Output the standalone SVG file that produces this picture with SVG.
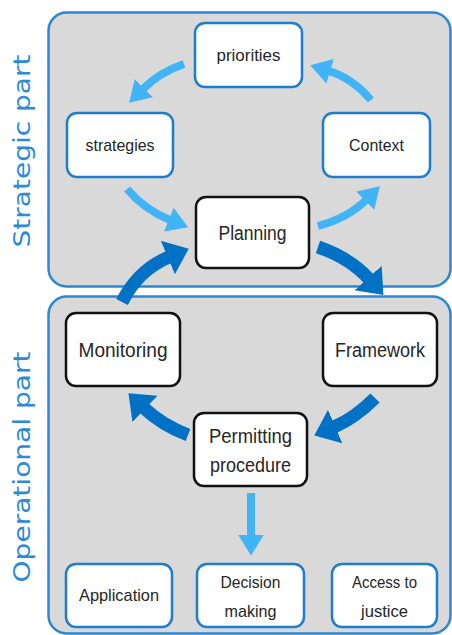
<svg xmlns="http://www.w3.org/2000/svg" width="452" height="635" viewBox="0 0 452 635">
<defs>
<style>
.panel{fill:#d9d9d9;stroke:#2a87d3;stroke-width:2.5}
.nb{fill:#fff;stroke:#1f7dcc;stroke-width:2.5}
.nk{fill:#fff;stroke:#111;stroke-width:2.5}
.t{font-family:"Liberation Sans",Arial,sans-serif;fill:#262626;text-anchor:middle}
.s{font-size:17px}
.m{font-size:20px}
.side{font-family:"DejaVu Sans","Liberation Sans",sans-serif;font-size:23px;fill:#2d8ad6;text-anchor:middle}
.la{fill:none;stroke:#40b4f6;stroke-width:8;marker-end:url(#hl)}
.da{fill:none;stroke:#0071c4;stroke-width:13;marker-end:url(#hd)}
</style>
<marker id="hl" viewBox="0 -2 3 4" refX="0.15" refY="0" markerWidth="3" markerHeight="4" markerUnits="strokeWidth" orient="auto">
<path d="M0,-1.6 L2.6,0 L0,1.6 z" fill="#40b4f6"/>
</marker>
<marker id="hd" viewBox="0 -2 2 4" refX="0.1" refY="0" markerWidth="2" markerHeight="4" markerUnits="strokeWidth" orient="auto">
<path d="M0,-1.4 L1.75,0 L0,1.4 z" fill="#0071c4"/>
</marker>
</defs>
<rect width="452" height="635" fill="#fff"/>
<g id="strategic-panel">
<rect class="panel" x="48.5" y="12.5" width="402" height="274" rx="18"/>
<text class="side" transform="translate(30,151) rotate(-90)" textLength="193" lengthAdjust="spacingAndGlyphs">Strategic part</text>
</g>
<g id="operational-panel">
<rect class="panel" x="48.5" y="296.5" width="402" height="337" rx="18"/>
<text class="side" transform="translate(30,467) rotate(-90)" textLength="231" lengthAdjust="spacingAndGlyphs">Operational part</text>
</g>
<g id="priorities"><rect class="nb" x="195" y="23" width="107" height="64" rx="10"/><text class="t s" x="248.5" y="61" textLength="64" lengthAdjust="spacingAndGlyphs">priorities</text></g>
<g id="strategies"><rect class="nb" x="67" y="113" width="106" height="64" rx="10"/><text class="t s" x="120" y="151" textLength="69" lengthAdjust="spacingAndGlyphs">strategies</text></g>
<g id="context"><rect class="nb" x="323" y="113" width="107" height="64" rx="10"/><text class="t s" x="376.5" y="151" textLength="55" lengthAdjust="spacingAndGlyphs">Context</text></g>
<g id="planning"><rect class="nk" x="196" y="197" width="113" height="71" rx="10"/><text class="t m" x="252.5" y="240" textLength="68" lengthAdjust="spacingAndGlyphs">Planning</text></g>
<g id="monitoring"><rect class="nk" x="66" y="313" width="114" height="73" rx="10"/><text class="t m" x="123" y="357" textLength="89" lengthAdjust="spacingAndGlyphs">Monitoring</text></g>
<g id="framework"><rect class="nk" x="323" y="313" width="114" height="73" rx="10"/><text class="t m" x="380" y="357" textLength="90" lengthAdjust="spacingAndGlyphs">Framework</text></g>
<g id="permitting"><rect class="nk" x="194" y="413" width="113" height="73" rx="10"/><text class="t m" x="250.5" y="443" textLength="83" lengthAdjust="spacingAndGlyphs">Permitting</text><text class="t m" x="250.5" y="472" textLength="81" lengthAdjust="spacingAndGlyphs">procedure</text></g>
<g id="application"><rect class="nb" x="66" y="564" width="106" height="63" rx="10"/><text class="t s" x="119" y="601" textLength="80" lengthAdjust="spacingAndGlyphs">Application</text></g>
<g id="decision"><rect class="nb" x="197" y="564" width="107" height="63" rx="10"/><text class="t s" x="250.5" y="588" textLength="60" lengthAdjust="spacingAndGlyphs">Decision</text><text class="t s" x="250.5" y="617" textLength="52" lengthAdjust="spacingAndGlyphs">making</text></g>
<g id="access"><rect class="nb" x="332" y="564" width="105" height="63" rx="10"/><text class="t s" x="384.5" y="588" textLength="65" lengthAdjust="spacingAndGlyphs">Access to</text><text class="t s" x="384.5" y="617" textLength="47" lengthAdjust="spacingAndGlyphs">justice</text></g>
<g id="connectors">
<path class="la" d="M184,64 Q160,72 143,89"/>
<path class="la" d="M371,100 Q352,78 329,71"/>
<path class="la" d="M127,189 Q145,210 170,220"/>
<path class="la" d="M318,226 Q348,218 366,200"/>
<path class="la" d="M251,493 L251,536"/>
<path class="da" d="M122,302 Q138,270 169,257"/>
<path class="da" d="M318,247 Q350,258 369,279"/>
<path class="da" d="M375,398 Q355,418 334,427"/>
<path class="da" d="M188,435 Q162,425 144,408"/>
</g>
</svg>
